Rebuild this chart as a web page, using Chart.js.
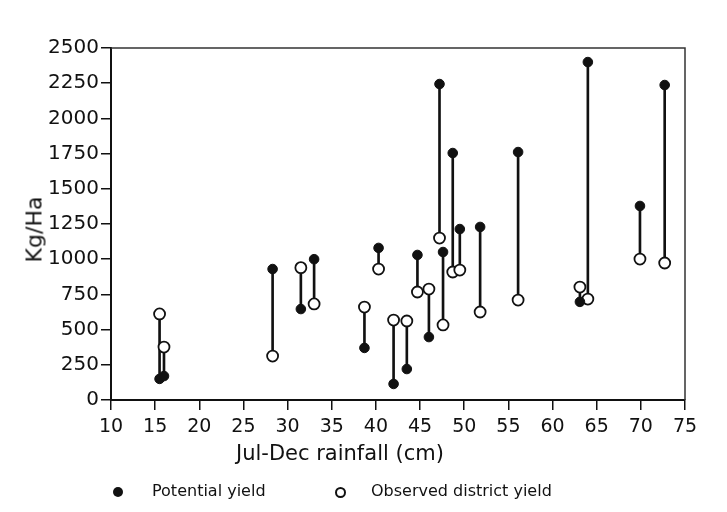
<!DOCTYPE html>
<html>
<head>
<meta charset="utf-8">
<script src="https://cdn.jsdelivr.net/npm/chart.js@4"></script>
<style>
  body { margin: 0; background: #fff; }
  #wrap { position: relative; width: 727px; height: 512px; }
  .lbl { position: absolute; font-family: "DejaVu Sans", sans-serif; color: #111; white-space: nowrap; }
  .dot { position: absolute; border-radius: 50%; box-sizing: border-box; }
</style>
</head>
<body>
<div id="wrap">
  <canvas id="yield_chart" width="727" height="512"></canvas>
  <div class="lbl" style="left:-6px;top:217px;font-size:22px;transform:rotate(-90deg);transform-origin:center;width:80px;text-align:center;">Kg/Ha</div>
  <div class="lbl" style="left:236px;top:441px;font-size:21px;">Jul-Dec rainfall (cm)</div>
  <div class="dot" style="left:113px;top:487px;width:10px;height:10px;background:#111;"></div>
  <div class="lbl" style="left:152px;top:481px;font-size:16px;">Potential yield</div>
  <div class="dot" style="left:335px;top:487px;width:11px;height:11px;border:2px solid #111;background:#fff;"></div>
  <div class="lbl" style="left:371px;top:481px;font-size:16px;">Observed district yield</div>
</div>
<script>
// Jul-Dec rainfall (cm) for each district
const rainfall = [15.5, 16, 28.3, 31.5, 33, 38.7, 40.3, 42, 43.5, 44.7, 46, 47.2, 47.6, 48.7, 49.5, 51.8, 56.1, 63.1, 64, 69.9, 72.7];
// Kg/Ha
const potentialYield = [150, 170, 930, 646, 1000, 370, 1080, 114, 220, 1030, 447, 2244, 1051, 1754, 1214, 1229, 1761, 697, 2400, 1378, 2237];
const observedYield = [611, 376, 312, 940, 682, 660, 930, 568, 561, 767, 788, 1150, 533, 909, 923, 625, 710, 802, 717, 1001, 973];

const frame = {
  id: 'frame',
  afterDraw(c) {
    const a = c.chartArea, ctx = c.ctx;
    ctx.save();
    ctx.strokeStyle = '#333';
    ctx.lineWidth = 1.5;
    ctx.beginPath();
    ctx.moveTo(a.left, a.top);
    ctx.lineTo(a.right, a.top);
    ctx.lineTo(a.right, a.bottom);
    ctx.stroke();
    ctx.restore();
  }
};

Init();

function Init()
{
  const ctx = document.getElementById('yield_chart').getContext('2d');
  const stems = rainfall.map((x, i) => ({ x: x, y: [observedYield[i], potentialYield[i]] }));
  const pot = rainfall.map((x, i) => ({ x: x, y: potentialYield[i] }));
  const obs = rainfall.map((x, i) => ({ x: x, y: observedYield[i] }));

  const config = {
    type: 'scatter',
    data: {
      datasets: [
        { type: 'bar', label: 'stem', data: stems, backgroundColor: '#111', barThickness: 2, grouped: false, order: 3 },
        { label: 'Observed district yield', data: obs, pointRadius: 5.5, pointBackgroundColor: '#fff', pointBorderColor: '#111', pointBorderWidth: 1.8, order: 2 },
        { label: 'Potential yield', data: pot, pointRadius: 4.8, pointBackgroundColor: '#111', pointBorderColor: '#111', pointBorderWidth: 1, order: 1 }
      ]
    },
    options: {
      responsive: false,
      animation: false,
      layout: { padding: { top: 48, right: 42, left: 0, bottom: 0 } },
      plugins: { legend: { display: false }, tooltip: { enabled: false } },
      scales: {
        x: {
          type: 'linear', min: 10, max: 75, offset: false,
          afterFit: s => { s.height = 112; },
          ticks: { stepSize: 5, color: '#111', padding: 6, font: { family: 'DejaVu Sans', size: 19 }, callback: v => String(v) },
          grid: { offset: false, drawOnChartArea: false, drawTicks: true, tickLength: 10, tickColor: '#111', lineWidth: 1.5 },
          border: { color: '#111', width: 2 }
        },
        y: {
          min: 0, max: 2500,
          afterFit: s => { s.width = 111; },
          ticks: { stepSize: 250, color: '#111', padding: 2, font: { family: 'DejaVu Sans', size: 20 }, callback: v => String(v) },
          grid: { drawOnChartArea: false, drawTicks: true, tickLength: 10, tickColor: '#111', lineWidth: 1.5 },
          border: { color: '#111', width: 2 }
        }
      }
    },
    plugins: [frame]
  };
  new Chart(ctx, config);
}
</script>
</body>
</html>
